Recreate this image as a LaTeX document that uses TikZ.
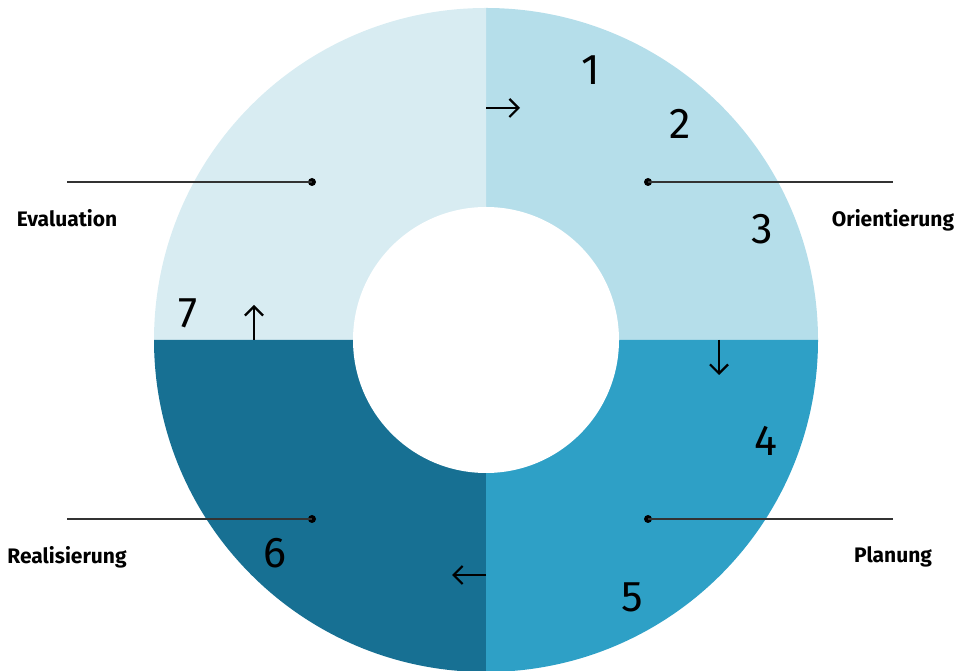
\documentclass[tikz,border=0pt]{standalone}
\usepackage{fontspec}
\setmainfont{Fira Sans}
\usetikzlibrary{positioning,arrows.meta}
\definecolor{evacol}{HTML}{D8ECF2}
\definecolor{oricol}{HTML}{B5DEEA}
\definecolor{placol}{HTML}{2EA0C6}
\definecolor{reacol}{HTML}{177093}

\begin{document}
\begin{tikzpicture}[x=1pt,y=1pt]

% ---------- common style ----------
\tikzstyle{leader}=[black!80,line width=1.2pt]
\tikzstyle{dot}=[circle,fill=black,inner sep=0pt,minimum size=8pt]
\tikzstyle{phase}=[font=\fontsize{21}{25}\selectfont\bfseries,inner sep=0pt]
\tikzstyle{stepnum}=[font=\fontsize{43}{48}\selectfont,inner sep=0pt]
\tikzstyle{flow}=[line width=2.2pt,-{Straight Barb[length=9pt,width=18pt]}]

\useasboundingbox (0,0) rectangle (960,671);
\coordinate (c) at (486,331);

% ================== ring quarters ==================
\foreach \a/\col in {0/oricol,90/evacol,180/reacol,270/placol}
  \fill[\col] (c) -- ++(\a:332) arc[start angle=\a,end angle=\a+90,radius=332] -- cycle;
\fill[white] (c) circle (133);

% ================== leaders + phase names ==================
\node[dot] (dEva) at (312,489) {};
\node[dot] (dOri) at (648,489) {};
\node[dot] (dRea) at (312,152) {};
\node[dot] (dPla) at (648,152) {};

\coordinate (eEva) at (67,489);
\coordinate (eOri) at (893,489);
\coordinate (eRea) at (67,152);
\coordinate (ePla) at (893,152);

\draw[leader] (dEva.center) -- (eEva);
\draw[leader] (dOri.center) -- (eOri);
\draw[leader] (dRea.center) -- (eRea);
\draw[leader] (dPla.center) -- (ePla);

\node[phase,below=27pt of eEva] (lEva) {Evaluation};
\node[phase,below=27pt of eOri] (lOri) {Orientierung};
\node[phase,below=27pt of eRea] (lRea) {Realisierung};
\node[phase,below=27pt of ePla] (lPla) {Planung};

% ================== step numbers ==================
\node[stepnum] (n1) at (591,601) {1};
\node[stepnum] (n2) at (680,547) {2};
\node[stepnum] (n3) at (762,442) {3};
\node[stepnum] (n4) at (766,230) {4};
\node[stepnum] (n5) at (632,74)  {5};
\node[stepnum] (n6) at (275,118) {6};
\node[stepnum] (n7) at (188,358) {7};

% ================== flow arrows ==================
\coordinate (aTop)   at (486,563);
\coordinate (aRight) at (719,331);
\coordinate (aBot)   at (486,96);
\coordinate (aLeft)  at (254,331);
\draw[flow] (aTop)   -- ++(34,0);
\draw[flow] (aRight) -- ++(0,-35);
\draw[flow] (aBot)   -- ++(-34,0);
\draw[flow] (aLeft)  -- ++(0,35);

\end{tikzpicture}
\end{document}
